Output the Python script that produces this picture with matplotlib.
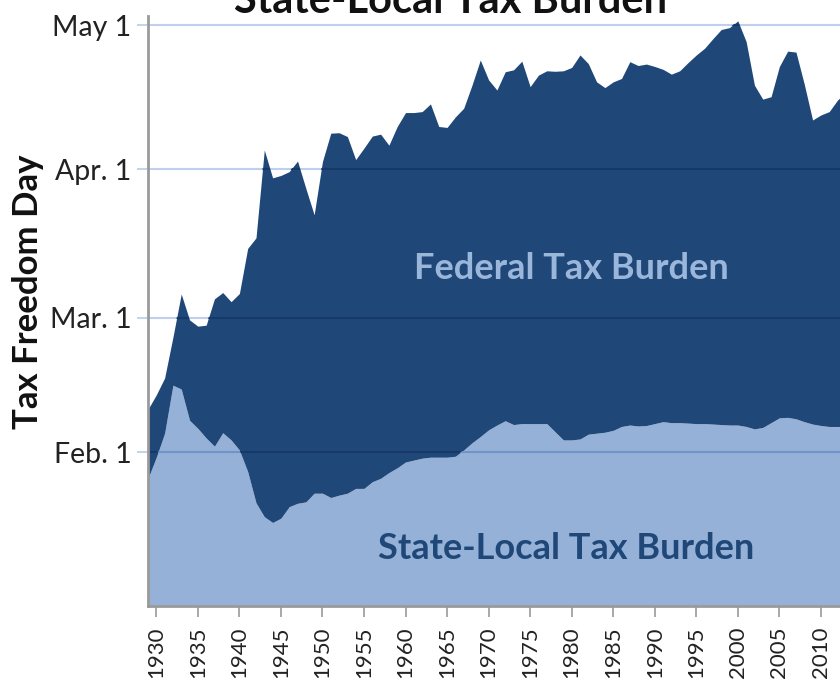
import matplotlib
matplotlib.use('Agg')
import matplotlib.pyplot as plt

plt.rcParams['font.family'] = ['Lato', 'DejaVu Sans']

years = list(range(1929, 2014))
total_day = [41, 44, 47.5, 56, 65, 59.6, 58.3, 58.5, 64, 65.3,
             63.4, 65.1, 74.5, 76.7, 95, 89.2, 89.7, 90.5, 92.7, 87,
             81.5, 92.6, 98.5, 98.6, 97.8, 93, 95.4, 97.9, 98.3, 96,
             99.9, 102.8, 102.8, 103, 104.6, 99.9, 99.7, 101.9, 103.7, 108.5,
             113.75, 109.6, 107.5, 111.3, 111.7, 113.5, 108.2, 110.6, 111.5, 111.4,
             111.5, 112.2, 114.8, 113, 109.2, 108, 109.2, 109.9, 113.4, 112.6,
             112.9, 112.4, 111.8, 110.8, 111.5, 113.2, 114.8, 116.2, 118.2, 120.1,
             120.5, 121.9, 117.6, 108.5, 105.6, 106.1, 112.4, 115.6, 115.4, 108.7,
             101.25, 102.3, 103, 105.4, 107]
state_local_day = [26.6, 31, 36, 46, 45.2, 38.7, 37, 35, 33.3, 36.1,
                   34.6, 32.5, 28, 21.5, 18.6, 17.4, 18.3, 20.7, 21.4, 21.7,
                   23.5, 23.5, 22.6, 23.1, 23.5, 24.5, 24.5, 25.9, 26.6, 27.8,
                   28.8, 30, 30.4, 30.8, 31, 31, 31, 31.2, 32.5, 34,
                   35.3, 36.7, 37.7, 38.6, 37.8, 38, 38, 38, 38, 36.3,
                   34.6, 34.6, 34.8, 35.8, 36, 36.2, 36.6, 37.4, 37.7, 37.5,
                   37.6, 38, 38.4, 38.2, 38.2, 38.1, 38, 38, 37.9, 37.8,
                   37.7, 37.7, 37.4, 36.9, 37.2, 38.2, 39.2, 39.3, 39, 38.4,
                   37.9, 37.6, 37.4, 37.4, 37.4]
ytick_days = [32, 60, 91, 121]
ytick_labels = ['Feb. 1', 'Mar. 1', 'Apr. 1', 'May 1']
xtick_years = list(range(1930, 2015, 5))

dark = '#1f4778'
light = '#95b1d7'

fig = plt.figure(figsize=(8.4, 6.79), dpi=100)
ax = fig.add_axes([148/840, (679-606)/679, 692/840, (606-15.6)/679])

pc_light = ax.fill_between(years, 0, state_local_day, color=light, lw=0, zorder=1)
pc_dark = ax.fill_between(years, state_local_day, total_day, color=dark, lw=0, zorder=1)

for d in ytick_days:
    ax.axhline(d, color='#bed0ec', lw=1.5, zorder=0.5)
    l1 = ax.axhline(d, color='#17396a', lw=1.5, zorder=2)
    l1.set_clip_path(pc_dark.get_paths()[0], ax.transData)
    l2 = ax.axhline(d, color='#7094c9', lw=1.5, zorder=2)
    l2.set_clip_path(pc_light.get_paths()[0], ax.transData)

ax.set_xlim(1929, 2012.3)
ax.set_ylim(0, 123)

ax.set_yticks(ytick_days)
ax.set_yticklabels(ytick_labels, fontsize=20.5, color='#222222')
ax.set_xticks(xtick_years)
ax.set_xticklabels([str(y) for y in xtick_years], rotation=90, fontsize=16,
                   color='#222222')
ax.tick_params(axis='y', length=8, width=1.2, color='#b8cde8', pad=4)
ax.tick_params(axis='x', length=8, width=1.2, color='#9a9a9a', pad=7)

for s in ['top', 'right']:
    ax.spines[s].set_visible(False)
for s in ['left', 'bottom']:
    ax.spines[s].set_color('#9a9a9a')
    ax.spines[s].set_linewidth(2)
    ax.spines[s].set_zorder(3)

ax.text(1980.0, 70.4, 'Federal Tax Burden', ha='center', va='center',
        fontsize=26, fontweight='bold', color='#9bb6db', zorder=4)
ax.text(1979.3, 11.9, 'State-Local Tax Burden', ha='center', va='center',
        fontsize=26, fontweight='bold', color=dark, zorder=4)

fig.text(28/840, 1-292/679, 'Tax Freedom Day', rotation=90, ha='center',
         va='center', fontsize=25, fontweight='bold', color='#111111')
fig.text(451/840, 1-13/679, 'State-Local Tax Burden', ha='center',
         va='baseline', fontsize=30, fontweight='bold', color='#111111')

fig.savefig('out.png', dpi=100)
